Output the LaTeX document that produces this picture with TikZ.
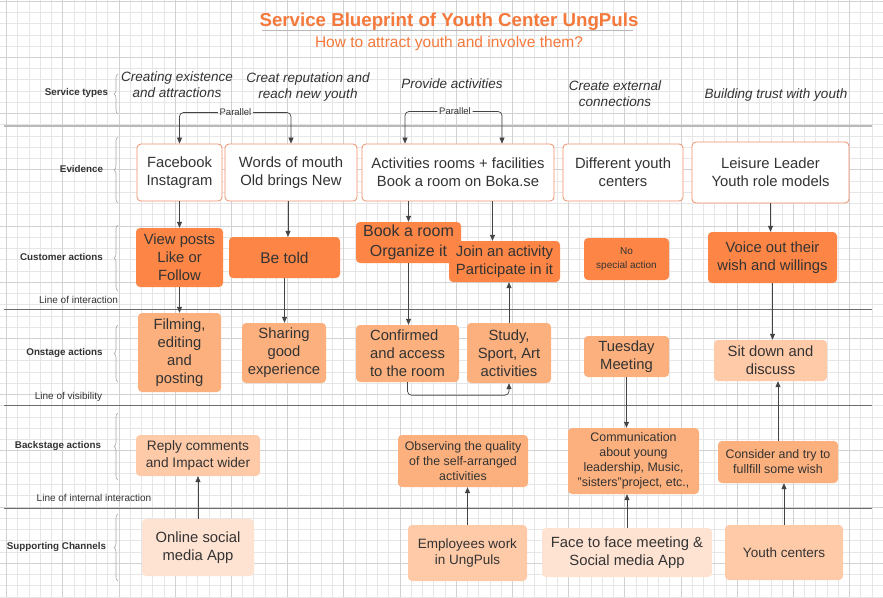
\documentclass[tikz,border=0pt]{standalone}
\usepackage{fontspec}
\setmainfont{Liberation Sans}
\usepackage{xcolor}
\usepackage{tikz}
\usetikzlibrary{arrows.meta,positioning,calc,decorations.pathreplacing}
\definecolor{ungtitle}{HTML}{F5793B}
\definecolor{ungdark}{HTML}{FD8646}
\definecolor{ungmid}{HTML}{FCB07E}
\definecolor{ungsoft}{HTML}{FFCAA8}
\definecolor{ungpale}{HTML}{FFE3D2}
\definecolor{ungedge}{HTML}{F0906A}
\definecolor{ungtext}{HTML}{333333}
\definecolor{ungarrow}{HTML}{444444}
\definecolor{gridminor}{HTML}{E6E6E6}
\definecolor{gridmajor}{HTML}{D2D2D2}

\begin{document}
\begin{tikzpicture}[x=1pt,y=-1pt]
    \tikzstyle{box}=[rounded corners=4pt,align=center,text=ungtext,font=\fontsize{14.8}{18}\selectfont,inner sep=2pt]
    \tikzstyle{evid}=[box,fill=white,draw=ungedge,line width=0.8pt]
    \tikzstyle{dark}=[box,fill=ungdark]
    \tikzstyle{mid}=[box,fill=ungmid]
    \tikzstyle{soft}=[box,fill=ungsoft]
    \tikzstyle{pale}=[box,fill=ungpale]
    \tikzstyle{small}=[font=\fontsize{12.4}{15}\selectfont]
    \tikzstyle{lane}=[text=ungtext,font=\fontsize{9.8}{12}\selectfont\bfseries]
    \tikzstyle{linelbl}=[text=ungtext,font=\fontsize{10}{12}\selectfont]
    \tikzstyle{stype}=[text=ungtext,align=center,font=\fontsize{13.5}{16}\selectfont\itshape]
    \tikzstyle{brc}=[draw=gray!70,line width=0.6pt,decorate,decoration={brace,amplitude=4pt}]
    \tikzstyle{arr}=[draw=ungarrow,line width=0.7pt,-{Triangle[length=6pt,width=5pt]}]
    % background grid
    \useasboundingbox (0,0) rectangle (883,597);
    \fill[white] (0,0) rectangle (883,597);
    \foreach \i in {0,...,78} \draw[gridminor,line width=0.6pt] ({6.5+11.24*\i},0) -- ++(0,597);
    \foreach \j in {0,...,53} \draw[gridminor,line width=0.6pt] (0,{1.1+11.24*\j}) -- ++(883,0);
    \foreach \i in {0,...,15} \draw[gridmajor,line width=0.8pt] ({6.5+56.2*\i},0) -- ++(0,597);
    \foreach \j in {0,...,10} \draw[gridmajor,line width=0.8pt] (0,{1.1+56.2*\j}) -- ++(883,0);
    % title
    \node[font=\fontsize{18.7}{22}\selectfont\bfseries,text=ungtitle] (title) at (449,22) {Service Blueprint of Youth Center UngPuls};
    \draw[gray!55,line width=0.8pt] (262,30) -- (633,30);
    \node[font=\fontsize{15.5}{18}\selectfont,text=ungtitle] (subtitle) at (449,43) {How to attract youth and involve them?};
    % lanes
    \draw[gray!55,line width=1.6pt] (4,126) -- (872,126);
    \draw[gray!85!black,line width=0.9pt] (4,309) -- (872,309);
    \draw[gray!85!black,line width=0.9pt] (4,405) -- (872,405);
    \draw[gray!85!black,line width=0.9pt] (4,508) -- (872,508);
    \node[lane] (l1) at (76.5,93) {Service types};
    \node[lane] (l2) at (81.5,169) {Evidence};
    \node[lane] (l3) at (61.5,257) {Customer actions};
    \node[lane] (l4) at (64.5,353) {Onstage actions};
    \node[lane] (l5) at (58,446) {Backstage actions};
    \node[lane] (l6) at (56.5,547) {Supporting Channels};
    \draw[brc] (118,114) -- (118,74);
    \draw[brc] (118,203) -- (118,137);
    \draw[brc] (118,291) -- (118,225);
    \draw[brc] (118,382) -- (118,325);
    \draw[brc] (118,480) -- (118,413);
    \draw[brc] (118,581) -- (118,514);
    \node[linelbl] (li1) at (78.5,300) {Line of interaction};
    \node[linelbl] (li2) at (68.5,397) {Line of visibility};
    \node[linelbl] (li3) at (94,498) {Line of internal interaction};
    % service types
    \node[stype] (s1) at (177,85) {Creating existence\\and attractions};
    \node[stype] (s2) at (308,87) {Creat reputation and\\reach new youth};
    \node[stype] (s3) at (452,84) {Provide activities};
    \node[stype] (s4) at (615,94) {Create external\\connections};
    \node[stype] (s5) at (776,95) {Building trust with youth};
    % evidence
    \node[evid,minimum width=85pt,minimum height=57pt] (fb) at (179.5,172.5) {Facebook\\Instagram};
    \node[evid,minimum width=132pt,minimum height=57pt] (wm) at (291,172.5) {Words of mouth\\Old brings New};
    \node[evid,minimum width=192pt,minimum height=57pt] (act) at (458,172.5) {Activities rooms + facilities\\Book a room on Boka.se};
    \node[evid,minimum width=120pt,minimum height=57pt] (dyc) at (623,172.5) {Different youth\\centers};
    \node[evid,minimum width=157pt,minimum height=61pt] (lei) at (770.5,172.5) {Leisure Leader\\Youth role models};
    % customer actions
    \node[dark,minimum width=87pt,minimum height=59pt] (vp) at (179.5,257.5) {View posts\\Like or\\Follow};
    \node[dark,minimum width=111pt,minimum height=41pt,font=\fontsize{15.5}{18}\selectfont] (bt) at (284.5,257.5) {Be told};
    \node[dark,minimum width=105pt,minimum height=41pt,font=\fontsize{16}{20}\selectfont] (bk) at (408.5,242.5) {Book a room\\Organize it};
    \node[dark,minimum width=111pt,minimum height=41pt] (jn) at (504.5,261.5) {Join an activity\\Participate in it};
    \node[dark,minimum width=85pt,minimum height=42pt,font=\fontsize{10}{14}\selectfont] (ns) at (626.5,259) {No\\special action};
    \node[dark,minimum width=129pt,minimum height=51pt] (vo) at (772.5,257.5) {Voice out their\\wish and willings};
    % onstage actions
    \node[mid,minimum width=83pt,minimum height=79pt] (fm) at (179.5,352.5) {Filming,\\editing\\and\\posting};
    \node[mid,minimum width=84pt,minimum height=60pt] (sh) at (284,353) {Sharing\\good\\experience};
    \node[mid,minimum width=103pt,minimum height=57pt,align=left] (cf) at (407.5,353.5) {Confirmed\\and access\\to the room};
    \node[mid,minimum width=84pt,minimum height=60pt] (st) at (509,353) {Study,\\Sport, Art\\activities};
    \node[mid,minimum width=85pt,minimum height=41pt] (tu) at (626.5,356.5) {Tuesday\\Meeting};
    \node[soft,minimum width=113pt,minimum height=41pt] (sd) at (770.5,360.5) {Sit down and\\discuss};
    % backstage actions
    \node[soft,minimum width=124pt,minimum height=41pt,font=\fontsize{13.7}{17}\selectfont] (rc) at (198,455.5) {Reply comments\\and Impact wider};
    \node[mid,small,minimum width=130pt,minimum height=52pt] (ob) at (463,461) {Observing the quality\\of the self-arranged\\activities};
    \node[mid,small,minimum width=131pt,minimum height=66pt] (cm) at (633.5,461) {Communication\\about young\\leadership, Music,\\"sisters"project, etc.,};
    \node[mid,small,minimum width=120pt,minimum height=42pt] (cs) at (778,462) {Consider and try to\\fullfill some wish};
    % supporting channels
    \node[pale,minimum width=112pt,minimum height=57pt] (os) at (198,547.5) {Online social\\media App};
    \node[soft,minimum width=119pt,minimum height=56pt,font=\fontsize{13.5}{16}\selectfont] (em) at (467.5,553) {Employees work\\in UngPuls};
    \node[pale,minimum width=170pt,minimum height=49pt] (ff) at (627,552.5) {Face to face meeting \&\\Social media App};
    \node[soft,minimum width=118pt,minimum height=55pt,font=\fontsize{13.5}{16}\selectfont] (yc) at (784,552.5) {Youth centers};
    % parallel links
    \node[text=ungtext,font=\fontsize{9.5}{11}\selectfont,inner sep=1.5pt] (par1) at (235.5,112.5) {Parallel};
    \node[text=ungtext,font=\fontsize{9.5}{11}\selectfont,inner sep=1.5pt] (par2) at (455,111.5) {Parallel};
    \draw[arr,rounded corners=4pt] (par1.west) -| (fb.north);
    \draw[arr,rounded corners=4pt] (par1.east) -| (wm.north);
    \draw[arr,rounded corners=4pt] (par2.west) -| ([xshift=-53pt]act.north);
    \draw[arr,rounded corners=4pt] (par2.east) -| ([xshift=44pt]act.north);
    % flows
    \draw[arr] (fb.south) -- (fb.south |- vp.north);
    \draw[arr] (vp.south) -- (vp.south |- fm.north);
    \draw[arr] ([xshift=-3pt]wm.south) -- ([xshift=-3pt]wm.south |- bt.north);
    \draw[arr] (bt.south) -- (bt.south |- sh.north);
    \draw[arr] (bk.north |- act.south) -- (bk.north);
    \draw[arr] ([xshift=-12pt]jn.north |- act.south) -- ([xshift=-12pt]jn.north);
    \draw[arr] (bk.south) -- (bk.south |- cf.north);
    \draw[arr,rounded corners=4pt] (cf.south) -- ++(0,13) -| (st.south);
    \draw[arr] (st.north) -- (st.north |- jn.south);
    \draw[arr] (tu.south) -- (tu.south |- cm.north);
    \draw[arr] (ff.north) -- (ff.north |- cm.south);
    \draw[arr] (em.north) -- (em.north |- ob.south);
    \draw[arr] (os.north) -- (os.north |- rc.south);
    \draw[arr] (lei.south) -- (lei.south |- vo.north);
    \draw[arr] (vo.south) -- (vo.south |- sd.north);
    \draw[arr] (cs.north) -- (cs.north |- sd.south);
    \draw[arr] (yc.north) -- (yc.north |- cs.south);
\end{tikzpicture}
\end{document}
